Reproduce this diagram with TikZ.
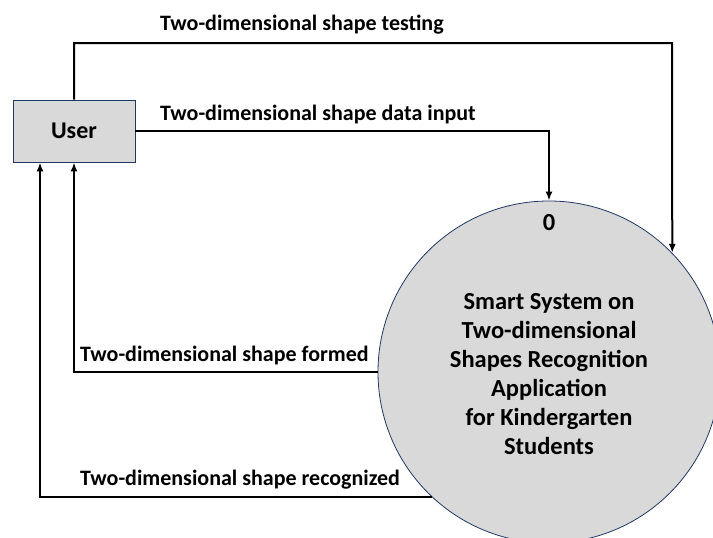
\documentclass[tikz,border=0pt]{standalone}
\usepackage{fontspec}
\setmainfont{Carlito}
\usetikzlibrary{arrows.meta}
\definecolor{fillgray}{HTML}{D9D9D9}
\definecolor{edgeblue}{HTML}{203864}
\tikzset{
  lbl/.style={font=\fontsize{22}{26}\selectfont\bfseries, inner sep=0pt},
  flow/.style={line width=2pt, -{Latex[length=9pt,width=7pt]}},
  entity/.style={draw=edgeblue, line width=0.8pt, fill=fillgray, minimum width=122pt, minimum height=62pt, inner sep=0pt, font=\fontsize{24}{28}\selectfont\bfseries},
  process/.style={circle, draw=edgeblue, line width=0.8pt, fill=fillgray, minimum size=342pt, inner sep=0pt},
  ptext/.style={inner sep=0pt, align=center, font=\fontsize{24.5}{29}\selectfont\bfseries},
}
\begin{document}
\begin{tikzpicture}[x=1pt,y=-1pt]
\useasboundingbox (0,0) rectangle (713,538);
\clip (0,0) rectangle (713,538);

% external entity and process
\node[entity] (user) at (74,131) {User};
\node[process] (sys) at (549,372) {};
\node[ptext] (num) at (549,223) {0};
\node[ptext] (title) at (549,374)
  {Smart System on\\Two-dimensional\\Shapes Recognition\\Application\\for Kindergarten\\Students};

% bend points
\coordinate (tcorner) at (672,43);
\coordinate (rleft) at ([xshift=-34pt]user.south);

% data flows
\draw[flow] (user.north) |- (tcorner) -- (sys.44);
\draw[flow] (user.east) -| (sys.north);
\draw[flow] (sys.west) -| (user.south);
\draw[flow] (sys.227) -| (rleft);

% flow labels
\node[lbl, anchor=west] (ltest) at (160,25) {Two-dimensional shape testing};
\node[lbl, anchor=west] (linput) at (160,115) {Two-dimensional shape data input};
\node[lbl, anchor=west] (lform) at (80,356) {Two-dimensional shape formed};
\node[lbl, anchor=west] (lrec) at (80,480) {Two-dimensional shape recognized};
\end{tikzpicture}
\end{document}
